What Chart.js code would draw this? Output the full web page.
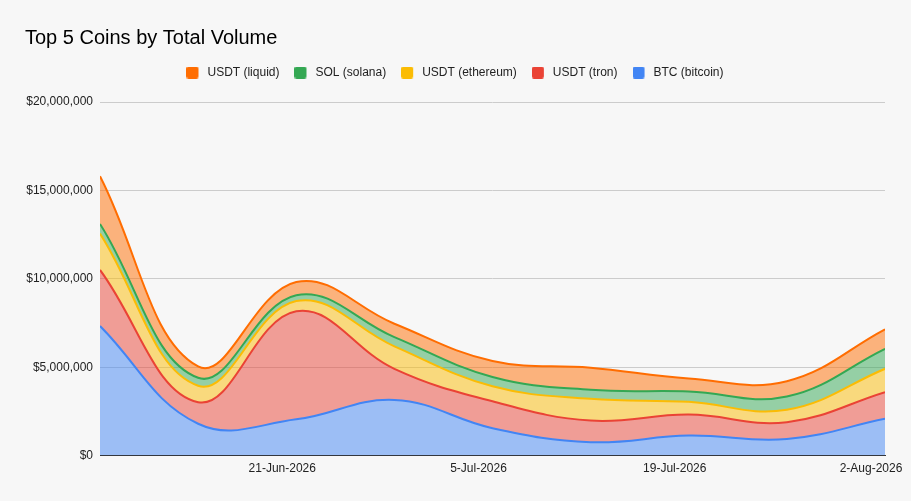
<!DOCTYPE html>
<html>
<head>
    <meta charset="utf-8" />
    <title>Top 5 Coins by Total Volume</title>
    <script src="https://cdn.jsdelivr.net/npm/chart.js"></script>
    <style>
        html, body { margin: 0; padding: 0; background: #f7f7f7; }
        #wrap { width: 911px; height: 501px; }
    </style>
</head>
<body>
    <div id="wrap">
        <canvas id="myChart"></canvas>
    </div>

    <script>
        // weekly points
        const dates = ['2026-06-08', '2026-06-15', '2026-06-22', '2026-06-29', '2026-07-06',
                       '2026-07-13', '2026-07-20', '2026-07-27', '2026-08-03'];
        const btcBitcoin    = [7330000, 1800000, 2050000, 3150000, 1550000, 760000, 1130000, 940000, 2080000];
        const usdtTron      = [3170000, 1220000, 6110000, 1760000, 1520000, 1220000, 1190000, 950000, 1510000];
        const usdtEthereum  = [2060000, 930000, 580000, 1270000, 850000, 1230000, 720000, 700000, 1320000];
        const solSolana     = [540000, 450000, 330000, 520000, 530000, 510000, 590000, 750000, 1130000];
        const usdtLiquid    = [2700000, 640000, 750000, 760000, 900000, 1250000, 730000, 870000, 1100000];
        const tickDates = ['2026-06-21', '2026-07-05', '2026-07-19', '2026-08-02'];
        const yTicks = [0, 5000000, 10000000, 15000000, 20000000];

        const FONT = "'Liberation Sans', Arial, sans-serif";
        const MONTHS = ['Jan', 'Feb', 'Mar', 'Apr', 'May', 'Jun', 'Jul', 'Aug', 'Sep', 'Oct', 'Nov', 'Dec'];
        const DAY = 86400000;
        const t0 = Date.parse(dates[0]);
        const toDay = s => (Date.parse(s) - t0) / DAY;
        const fmtDay = d => {
            const dt = new Date(t0 + Math.round(d) * DAY);
            return dt.getUTCDate() + '-' + MONTHS[dt.getUTCMonth()] + '-' + dt.getUTCFullYear();
        };

        // legend swatch: 12px square with some empty room on its right
        function swatch(color) {
            const c = document.createElement('canvas');
            c.width = 15; c.height = 12;
            const g = c.getContext('2d');
            g.fillStyle = color;
            g.beginPath();
            g.roundRect(0, 0, 12, 12, 2);
            g.fill();
            return c;
        }

        function series(label, values, color, fill) {
            return {
                label: label,
                data: values.map((v, i) => ({ x: toDay(dates[i]), y: v })),
                borderColor: color,
                backgroundColor: color + '80',
                borderWidth: 2,
                pointRadius: 0,
                pointStyle: swatch(color),
                tension: 0.4,
                fill: fill
            };
        }

        const ctx = document.getElementById('myChart').getContext('2d');
        new Chart(ctx, {
            type: 'line',
            data: {
                datasets: [
                    series('BTC (bitcoin)', btcBitcoin, '#4285f4', 'origin'),
                    series('USDT (tron)', usdtTron, '#ea4335', '-1'),
                    series('USDT (ethereum)', usdtEthereum, '#fbbc04', '-1'),
                    series('SOL (solana)', solSolana, '#34a853', '-1'),
                    series('USDT (liquid)', usdtLiquid, '#ff6d01', '-1')
                ]
            },
            options: {
                responsive: true,
                maintainAspectRatio: false,
                animation: false,
                layout: { padding: { left: 25, right: 26, top: 8, bottom: 19 } },
                plugins: {
                    title: {
                        display: true,
                        text: 'Top 5 Coins by Total Volume',
                        align: 'start',
                        color: '#000',
                        font: { family: FONT, size: 20, weight: 'normal' },
                        padding: { top: 18, bottom: 1.5 }
                    },
                    // empty spacer between legend and plot
                    subtitle: {
                        display: true,
                        text: '',
                        weight: 500,
                        font: { family: FONT, size: 10 },
                        padding: { top: 1.5, bottom: 0 }
                    },
                    legend: {
                        reverse: true,
                        labels: {
                            usePointStyle: true,
                            pointStyleWidth: 15,
                            boxHeight: 12,
                            padding: 15,
                            color: '#222',
                            font: { family: FONT, size: 12 }
                        }
                    },
                    tooltip: { enabled: false }
                },
                scales: {
                    x: {
                        type: 'linear',
                        min: 0,
                        max: toDay(dates[dates.length - 1]),
                        afterBuildTicks(scale) {
                            scale.ticks = tickDates.map(d => ({ value: toDay(d) }));
                        },
                        grid: { display: false, drawTicks: false },
                        border: { display: true, color: '#333', width: 1 },
                        ticks: {
                            color: '#222',
                            font: { family: FONT, size: 12 },
                            maxRotation: 0,
                            autoSkip: false,
                            padding: 6,
                            callback: v => fmtDay(v)
                        }
                    },
                    y: {
                        stacked: true,
                        min: 0,
                        max: 20000000,
                        afterBuildTicks(scale) {
                            scale.ticks = yTicks.map(v => ({ value: v }));
                        },
                        afterFit(scale) { scale.width = 75; },
                        grid: { color: '#cccccc', drawTicks: false },
                        border: { display: false },
                        ticks: {
                            color: '#222',
                            font: { family: FONT, size: 12 },
                            padding: 7,
                            callback: v => '$' + v.toLocaleString('en-US')
                        }
                    }
                }
            }
        });
    </script>
</body>
</html>
